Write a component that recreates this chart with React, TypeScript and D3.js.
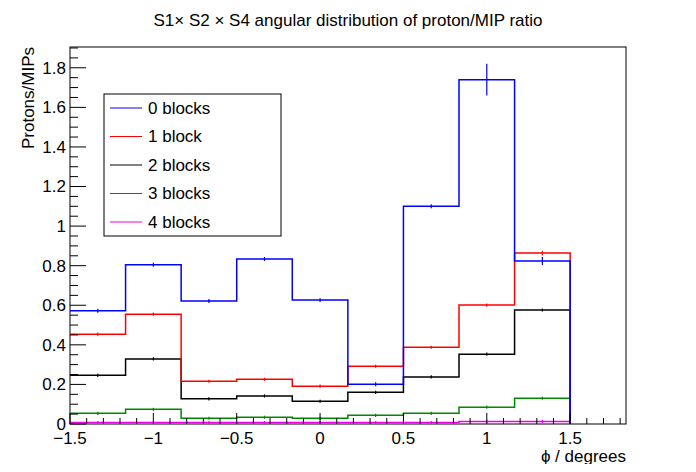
import { useEffect, useRef } from "react";
import * as d3 from "d3";

// bin edges (phi, degrees) – 9 bins of width 1/3
const binEdges = [-1.5, -7 / 6, -5 / 6, -0.5, -1 / 6, 1 / 6, 0.5, 5 / 6, 7 / 6, 1.5];

const seriesNames = ["0 blocks", "1 block", "2 blocks", "3 blocks", "4 blocks"];
const seriesColors = ["#0000ff", "#ff0000", "#000000", "#008800", "#ee00ee"];

const blocks0 = [0.572, 0.805, 0.621, 0.834, 0.626, 0.201, 1.1, 1.74, 0.824];
const blocks0Err = [0.01, 0.01, 0.01, 0.01, 0.01, 0.01, 0.01, 0.08, 0.02];
const blocks1 = [0.454, 0.555, 0.216, 0.226, 0.191, 0.292, 0.388, 0.601, 0.864];
const blocks1Err = [0.006, 0.006, 0.004, 0.004, 0.004, 0.004, 0.004, 0.006, 0.012];
const blocks2 = [0.246, 0.329, 0.127, 0.142, 0.115, 0.16, 0.238, 0.353, 0.576];
const blocks2Err = [0.004, 0.004, 0.003, 0.003, 0.003, 0.003, 0.003, 0.005, 0.008];
const blocks3 = [0.054, 0.074, 0.029, 0.034, 0.029, 0.044, 0.054, 0.085, 0.13];
const blocks3Err = [0.002, 0.003, 0.002, 0.002, 0.002, 0.002, 0.002, 0.003, 0.004];
const blocks4 = [0.007, 0.007, 0.007, 0.007, 0.007, 0.007, 0.007, 0.013, 0.013];

const seriesValues = [blocks0, blocks1, blocks2, blocks3, blocks4];
const seriesErrors = [blocks0Err, blocks1Err, blocks2Err, blocks3Err, blocks4.map(() => 0.001)];

const xTicks = [-1.5, -1, -0.5, 0, 0.5, 1, 1.5];
const yTicks = [0, 0.2, 0.4, 0.6, 0.8, 1, 1.2, 1.4, 1.6, 1.8];

export default function App() {
  const svgRef = useRef<SVGSVGElement>(null);

  useEffect(() => {
    if (!svgRef.current) return;
    const width = 696;
    const height = 472;
    const margin = { top: 47, right: 70, bottom: 48, left: 70 };
    const innerWidth = width - margin.left - margin.right;
    const innerHeight = height - margin.top - margin.bottom;

    const svg = d3.select(svgRef.current);
    svg.selectAll("*").remove();
    const font = "Liberation Sans, Arial, sans-serif";

    const x = d3.scaleLinear().domain([-1.5, 1.835]).range([0, innerWidth]);
    const y = d3.scaleLinear().domain([0, 1.905]).range([innerHeight, 0]);

    const g = svg.append("g").attr("transform", `translate(${margin.left},${margin.top})`);

    // ── Frame ────────────────────────────────────────────────
    g.append("rect")
      .attr("width", innerWidth)
      .attr("height", innerHeight)
      .attr("fill", "none")
      .attr("stroke", "#000");

    // ── Histograms (drawn back to front) ─────────────────────
    const step = d3
      .line<[number, number]>()
      .x((d) => x(d[0]))
      .y((d) => y(d[1]));

    for (let s = seriesValues.length - 1; s >= 0; s--) {
      const vals = seriesValues[s];
      const pts: [number, number][] = [];
      vals.forEach((v, i) => {
        if (i === 0) pts.push([binEdges[0], v]);
        else pts.push([binEdges[i], v]);
        pts.push([binEdges[i + 1], v]);
      });
      pts.push([binEdges[binEdges.length - 1], 0]);
      g.append("path")
        .attr("d", step(pts))
        .attr("fill", "none")
        .attr("stroke", seriesColors[s])
        .attr("stroke-width", 1.5);

      vals.forEach((v, i) => {
        const cx = x((binEdges[i] + binEdges[i + 1]) / 2);
        const e = Math.max(seriesErrors[s][i], 0.008);
        g.append("line")
          .attr("x1", cx)
          .attr("x2", cx)
          .attr("y1", y(v - e))
          .attr("y2", y(v + e))
          .attr("stroke", seriesColors[s])
          .attr("stroke-width", 1.2);
      });
    }

    // ── Ticks ────────────────────────────────────────────────
    const xMinor = d3.range(-1.5, 1.8301, 0.1);
    xMinor.forEach((t) => {
      const major = xTicks.some((m) => Math.abs(m - t) < 1e-6);
      g.append("line")
        .attr("x1", x(t))
        .attr("x2", x(t))
        .attr("y1", innerHeight)
        .attr("y2", innerHeight - (major ? 11 : 6))
        .attr("stroke", "#000");
    });
    xTicks.forEach((t) => {
      g.append("text")
        .attr("x", x(t))
        .attr("y", innerHeight + 20)
        .attr("text-anchor", "middle")
        .attr("font-family", font)
        .attr("font-size", 17)
        .text(d3.format("")(t));
    });

    const yMinor = d3.range(0, 1.9001, 0.05);
    yMinor.forEach((t) => {
      const major = yTicks.some((m) => Math.abs(m - t) < 1e-6);
      g.append("line")
        .attr("x1", 0)
        .attr("x2", major ? 16 : 8)
        .attr("y1", y(t))
        .attr("y2", y(t))
        .attr("stroke", "#000");
    });
    yTicks.forEach((t) => {
      g.append("text")
        .attr("x", -4)
        .attr("y", y(t))
        .attr("dy", "0.35em")
        .attr("text-anchor", "end")
        .attr("font-family", font)
        .attr("font-size", 17)
        .text(d3.format("")(t));
    });

    // ── Labels ───────────────────────────────────────────────
    svg.append("text")
      .attr("x", 348)
      .attr("y", 26)
      .attr("text-anchor", "middle")
      .attr("font-family", font)
      .attr("font-size", 17)
      .text("S1\u00d7 S2 \u00d7 S4 angular distribution of proton/MIP ratio");

    svg.append("text")
      .attr("x", margin.left + innerWidth)
      .attr("y", 462)
      .attr("text-anchor", "end")
      .attr("font-family", font)
      .attr("font-size", 17)
      .text("\u03d5 / degrees");

    svg.append("text")
      .attr("transform", `translate(34,${margin.top}) rotate(-90)`)
      .attr("text-anchor", "end")
      .attr("font-family", font)
      .attr("font-size", 17)
      .text("Protons/MIPs");

    // ── Legend ───────────────────────────────────────────────
    const lg = svg.append("g").attr("transform", "translate(104,94)");
    lg.append("rect")
      .attr("width", 177)
      .attr("height", 142)
      .attr("fill", "#fff")
      .attr("stroke", "#000");
    seriesNames.forEach((name, i) => {
      const cy = 14 + i * 28.5;
      lg.append("line")
        .attr("x1", 6)
        .attr("x2", 38)
        .attr("y1", cy)
        .attr("y2", cy)
        .attr("stroke", seriesColors[i]);
      lg.append("text")
        .attr("x", 44)
        .attr("y", cy)
        .attr("dy", "0.35em")
        .attr("font-family", font)
        .attr("font-size", 17)
        .text(name);
    });
  }, []);

  return <svg ref={svgRef} width={696} height={472} style={{ display: "block", margin: -8 }} />;
}
